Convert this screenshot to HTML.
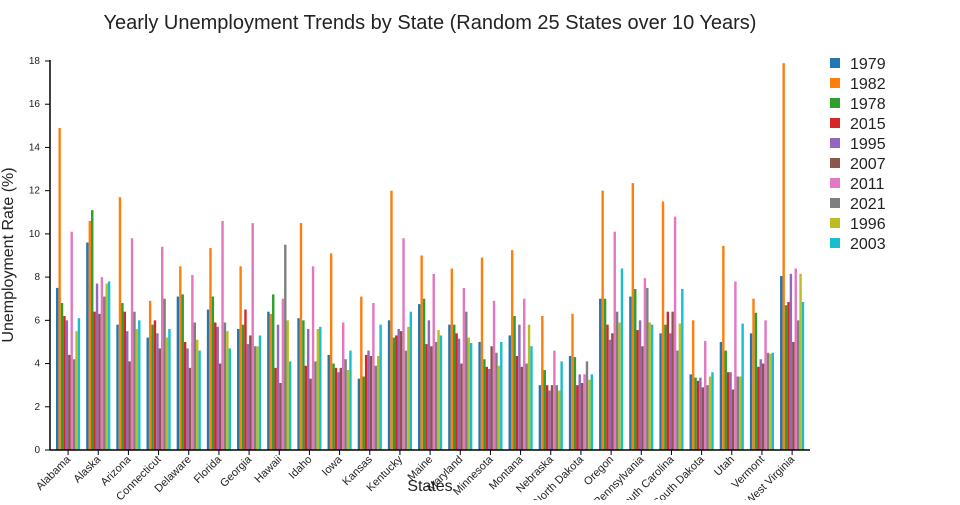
<!DOCTYPE html>
<html><head><meta charset="utf-8"><style>
body{margin:0;background:#fff;font-family:"Liberation Sans","DejaVu Sans",sans-serif}
svg text{font-family:"Liberation Sans","DejaVu Sans",sans-serif;fill:#222}
</style></head><body>
<svg id="chart" width="960" height="500" xmlns="http://www.w3.org/2000/svg">
<text x="430" y="29" font-size="20" text-anchor="middle">Yearly Unemployment Trends by State (Random 25 States over 10 Years)</text>
<text transform="translate(13,255) rotate(-90)" font-size="16" text-anchor="middle">Unemployment Rate (%)</text>
<text x="430" y="491" font-size="16" text-anchor="middle">States</text>
<g id="bars"></g>
<g id="axes"></g>
<g id="legend"></g>
</svg>
<script>
const states=["Alabama","Alaska","Arizona","Connecticut","Delaware","Florida","Georgia","Hawaii","Idaho","Iowa","Kansas","Kentucky","Maine","Maryland","Minnesota","Montana","Nebraska","North Dakota","Oregon","Pennsylvania","South Carolina","South Dakota","Utah","Vermont","West Virginia"];
const years=["1979","1982","1978","2015","1995","2007","2011","2021","1996","2003"];
const colors=["#1f77b4","#ff7f0e","#2ca02c","#d62728","#9467bd","#8c564b","#e377c2","#7f7f7f","#bcbd22","#17becf"];
const yTicks=[0,2,4,6,8,10,12,14,16,18];
// values per state, in year order above
const v1979=[7.5,9.6,5.8,5.2,7.1,6.5,5.6,6.4,6.1,4.4,3.3,6.0,6.75,5.8,5.0,5.3,3.0,4.35,7.0,7.1,5.4,3.5,5.0,5.4,8.05];
const v1982=[14.9,10.6,11.7,6.9,8.5,9.35,8.5,6.3,10.5,9.1,7.1,12.0,9.0,8.4,8.9,9.25,6.2,6.3,12.0,12.35,11.5,6.0,9.45,7.0,17.9];
const v1978=[6.8,11.1,6.8,5.8,7.2,7.1,5.8,7.2,6.0,4.0,3.4,5.2,7.0,5.8,4.2,6.2,3.7,4.3,7.0,7.45,5.8,3.35,4.6,6.35,6.7];
const v2015=[6.2,6.4,6.4,6.0,5.0,5.9,6.5,3.8,3.9,3.8,4.4,5.3,4.9,5.4,3.85,4.35,3.0,3.0,5.8,5.55,6.4,3.2,3.6,3.85,6.85];
const v1995=[6.0,7.7,5.5,5.4,4.7,5.7,4.9,5.8,5.6,3.6,4.6,5.6,6.0,5.15,3.75,5.8,2.75,3.5,5.1,6.0,5.4,3.35,3.6,4.2,8.15];
const v2007=[4.4,6.3,4.1,4.7,3.8,4.0,5.3,3.1,3.3,3.8,4.35,5.5,4.8,4.0,4.8,3.85,3.0,3.1,5.4,4.8,6.4,2.9,2.8,4.0,5.0];
const v2011=[10.1,8.0,9.8,9.4,8.1,10.6,10.5,7.0,8.5,5.9,6.8,9.8,8.15,7.5,6.9,7.0,4.6,3.5,10.1,7.95,10.8,5.05,7.8,6.0,8.4];
const v2021=[4.2,7.1,6.4,7.0,5.9,5.9,4.8,9.5,4.1,4.2,3.9,4.6,5.0,6.4,4.5,4.0,3.0,4.1,6.4,7.5,4.6,3.0,3.4,4.5,6.0];
const v1996=[5.5,7.7,5.6,5.2,5.1,5.5,4.8,6.0,5.6,3.7,4.35,5.7,5.55,5.2,3.9,5.8,2.75,3.25,5.9,5.9,5.85,3.4,3.4,4.45,8.15];
const v2003=[6.1,7.8,6.0,5.6,4.6,4.7,5.3,4.1,5.7,4.6,5.8,6.4,5.3,4.95,5.0,4.8,4.1,3.5,8.4,5.8,7.45,3.6,5.85,4.5,6.85];
const series=[v1979,v1982,v1978,v2015,v1995,v2007,v2011,v2021,v1996,v2003];

const NS="http://www.w3.org/2000/svg";
const x0=53,x1=807.2,yBase=450,yTop=61,yMax=18;
const band=(x1-x0)/states.length;
const xC=i=>x0+band*(i+0.5);
const yS=v=>yBase-(v/yMax)*(yBase-yTop);
function mk(tag,attrs,parent){const e=document.createElementNS(NS,tag);for(const k in attrs)e.setAttribute(k,attrs[k]);parent.appendChild(e);return e;}
const bars=document.getElementById('bars'),axes=document.getElementById('axes'),legend=document.getElementById('legend');
const gw=band*0.8,bw=gw/years.length;
series.forEach((s,si)=>{s.forEach((v,i)=>{
 const r=mk('rect',{x:xC(i)-gw/2+si*bw,y:yS(v),width:bw,height:yBase-yS(v),fill:colors[si]},bars);
 
 
});});
mk('line',{x1:50,y1:yBase,x2:50,y2:yTop-1,stroke:'#000','stroke-width':1.5},axes);
mk('line',{x1:50,y1:yBase,x2:810,y2:yBase,stroke:'#000','stroke-width':1.5},axes);
yTicks.forEach(t=>{
 mk('line',{x1:45,y1:yS(t),x2:50,y2:yS(t),stroke:'#000'},axes);
 const tx=mk('text',{x:40,y:yS(t)+3,'font-size':10,'text-anchor':'end'},axes);
 tx.textContent=t;
 
 
});
states.forEach((s,i)=>{
 mk('line',{x1:xC(i),y1:yBase,x2:xC(i),y2:yBase+5,stroke:'#000'},axes);
 const tx=mk('text',{transform:`translate(${xC(i)+3},${yBase+10}) rotate(-45)`,'font-size':11,'text-anchor':'end'},axes);
 tx.textContent=s;
 
 
});
years.forEach((y,i)=>{
 const g=mk('g',{},legend);
 
 
 mk('rect',{x:830,y:58+i*20,width:10,height:10,fill:colors[i]},g);
 const t=mk('text',{x:850,y:69+i*20,'font-size':16},g);
 t.textContent=y;
});
</script>
</body></html>
